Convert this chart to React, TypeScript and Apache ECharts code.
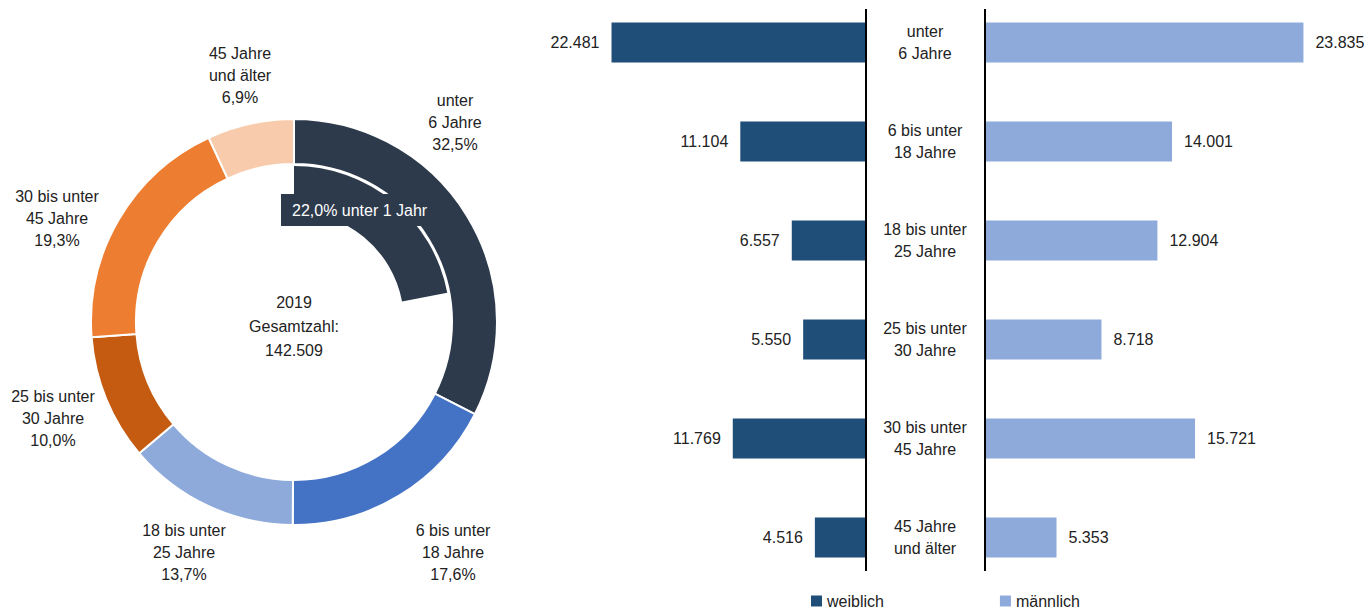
import React, { useEffect, useRef } from "react";
import * as echarts from "echarts";

const ageLabels = [
  "unter\n6 Jahre",
  "6 bis unter\n18 Jahre",
  "18 bis unter\n25 Jahre",
  "25 bis unter\n30 Jahre",
  "30 bis unter\n45 Jahre",
  "45 Jahre\nund älter",
];
const sharePercent = [32.5, 17.6, 13.7, 10.0, 19.3, 6.9];
const shareColors = ["#2d3a4c", "#4472c4", "#8eaadb", "#c55a11", "#ed7d31", "#f8cbad"];
const under1Share = 22.0;
const totalYear = "2019";
const totalCount = 142509;
const female = [22481, 11104, 6557, 5550, 11769, 4516];
const male = [23835, 14001, 12904, 8718, 15721, 5353];
const seriesNames = ["weiblich", "männlich"];
const femaleColor = "#1f4e79";
const maleColor = "#8eaadb";

const FONT = "'Liberation Sans', 'Noto Sans', sans-serif";
const FS = 16;
const TXT = "#222";

const fmtInt = (v: number) => String(v).replace(/\B(?=(\d{3})+(?!\d))/g, ".");
const fmtPct = (v: number) => v.toFixed(1).replace(".", ",") + "%";

// label anchor points for the donut labels (layout only)
const pieLabelPos = [
  [455, 122],
  [453, 552],
  [184, 552],
  [53, 418],
  [57, 218],
  [240, 75],
];

export default function App() {
  const ref = useRef<HTMLDivElement>(null);
  useEffect(() => {
    const chart = echarts.init(ref.current!, null, { renderer: "svg" });
    const center = [294, 322];
    const pieLabels = sharePercent.map((v, i) => ({
      type: "text",
      x: pieLabelPos[i][0],
      y: pieLabelPos[i][1],
      z: 10,
      style: {
        text: ageLabels[i] + "\n" + fmtPct(v),
        font: `${FS}px ${FONT}`,
        lineHeight: 22,
        fill: TXT,
        align: "center",
        verticalAlign: "middle",
      },
    }));
    chart.setOption({
      animation: false,
      textStyle: { fontFamily: FONT },
      legend: {
        data: seriesNames,
        left: 811,
        top: 592,
        padding: 0,
        icon: "rect",
        itemWidth: 11,
        itemHeight: 11,
        itemGap: 116,
        textStyle: { fontFamily: FONT, fontSize: FS, lineHeight: 18, color: TXT },
      },
      grid: [
        { left: 583, right: 504, top: -7, bottom: 23, outerBoundsMode: "none" },
        { left: 985, right: 51, top: -7, bottom: 23, outerBoundsMode: "none" },
      ],
      xAxis: [
        { gridIndex: 0, type: "value", min: 0, max: 25000, inverse: true, show: false },
        { gridIndex: 1, type: "value", min: 0, max: 25000, show: false },
      ],
      yAxis: [
        {
          gridIndex: 0,
          type: "category",
          data: ageLabels,
          inverse: true,
          axisLine: { show: false },
          axisTick: { show: false },
          axisLabel: { show: false },
        },
        {
          gridIndex: 1,
          type: "category",
          data: ageLabels,
          inverse: true,
          axisLine: { show: false },
          axisTick: { show: false },
          axisLabel: {
            show: true,
            align: "center",
            margin: 60,
            fontFamily: FONT,
            fontSize: FS,
            lineHeight: 22,
            color: TXT,
          },
        },
      ],
      series: [
        {
          type: "pie",
          center,
          radius: [158, 203],
          startAngle: 90,
          clockwise: true,
          silent: true,
          itemStyle: { borderColor: "#fff", borderWidth: 2 },
          label: { show: false },
          labelLine: { show: false },
          data: sharePercent.map((v, i) => ({
            value: v,
            name: ageLabels[i],
            itemStyle: { color: shareColors[i] },
          })),
        },
        {
          type: "pie",
          center,
          radius: [110, 156],
          startAngle: 90,
          clockwise: true,
          silent: true,
          label: { show: false },
          labelLine: { show: false },
          data: [
            { value: under1Share, itemStyle: { color: shareColors[0] } },
            { value: 100 - under1Share, itemStyle: { color: "rgba(0,0,0,0)" } },
          ],
        },
        {
          name: seriesNames[0],
          type: "bar",
          xAxisIndex: 0,
          yAxisIndex: 0,
          barWidth: 40,
          data: female,
          itemStyle: { color: femaleColor },
          label: {
            show: true,
            position: "left",
            distance: 12,
            formatter: (p: any) => fmtInt(p.value),
            fontFamily: FONT,
            fontSize: FS,
            color: TXT,
          },
        },
        {
          name: seriesNames[1],
          type: "bar",
          xAxisIndex: 1,
          yAxisIndex: 1,
          barWidth: 40,
          data: male,
          itemStyle: { color: maleColor },
          label: {
            show: true,
            position: "right",
            distance: 12,
            formatter: (p: any) => fmtInt(p.value),
            fontFamily: FONT,
            fontSize: FS,
            color: TXT,
          },
        },
      ],
      graphic: [
        ...pieLabels,
        {
          type: "text",
          x: center[0],
          y: center[1] + 4,
          z: 10,
          style: {
            text: totalYear + "\nGesamtzahl:\n" + fmtInt(totalCount),
            font: `${FS}px ${FONT}`,
            lineHeight: 24,
            fill: TXT,
            align: "center",
            verticalAlign: "middle",
          },
        },
        {
          type: "text",
          x: 281,
          y: 194,
          z: 10,
          style: {
            text: fmtPct(under1Share) + " unter 1 Jahr",
            font: `${FS}px ${FONT}`,
            fill: "#fff",
            backgroundColor: shareColors[0],
            padding: [8, 11, 8, 11],
          },
        },
        {
          type: "line",
          z: 10,
          shape: { x1: 866, y1: 9, x2: 866, y2: 571 },
          style: { stroke: "#000", lineWidth: 2 },
        },
        {
          type: "line",
          z: 10,
          shape: { x1: 985, y1: 9, x2: 985, y2: 571 },
          style: { stroke: "#000", lineWidth: 2 },
        },
      ],
    });
    return () => chart.dispose();
  }, []);
  return (
    <div
      ref={ref}
      style={{ position: "fixed", left: 0, top: 0, width: 1370, height: 610, background: "#fff" }}
    />
  );
}
